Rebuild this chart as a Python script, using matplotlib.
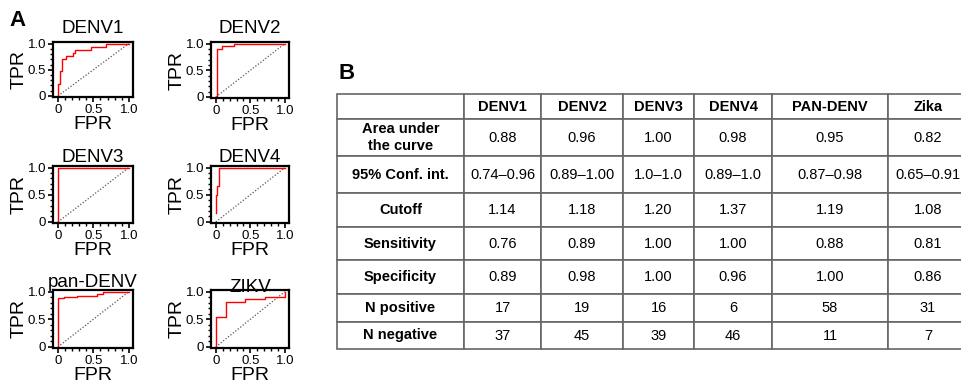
import numpy as np
import matplotlib
matplotlib.use("Agg")
import matplotlib.pyplot as plt
from matplotlib.ticker import MultipleLocator, FixedLocator, FixedFormatter

plt.rcParams['font.family'] = ['Liberation Sans', 'DejaVu Sans']

# ---- panel A : ROC curves (corner points) ----
titles = ["DENV1", "DENV2", "DENV3", "DENV4", "pan-DENV", "ZIKV"]

fpr_denv1 = [0, 0, 0.027, 0.027, 0.054, 0.054, 0.108, 0.108, 0.216, 0.216, 0.243, 0.243, 0.46, 0.46, 0.676, 0.676, 1.0]
tpr_denv1 = [0, 0.235, 0.235, 0.47, 0.47, 0.706, 0.706, 0.765, 0.765, 0.824, 0.824, 0.882, 0.882, 0.941, 0.941, 1.0, 1.0]

fpr_denv2 = [0, 0.022, 0.022, 0.089, 0.089, 0.267, 0.267, 1.0]
tpr_denv2 = [0, 0, 0.895, 0.895, 0.947, 0.947, 1.0, 1.0]

fpr_denv3 = [0, 0, 1.0]
tpr_denv3 = [0, 1.0, 1.0]

fpr_denv4 = [0, 0, 0.022, 0.022, 0.043, 0.043, 1.0]
tpr_denv4 = [0.167, 0.5, 0.5, 0.667, 0.667, 1.0, 1.0]

fpr_pan = [0, 0, 0.091, 0.091, 0.273, 0.273, 0.545, 0.545, 0.636, 0.636, 1.0]
tpr_pan = [0, 0.879, 0.879, 0.897, 0.897, 0.914, 0.914, 0.966, 0.966, 1.0, 1.0]

fpr_zikv = [0, 0, 0.143, 0.143, 0.429, 0.429, 0.714, 0.714, 1.0, 1.0]
tpr_zikv = [0, 0.548, 0.548, 0.806, 0.806, 0.871, 0.871, 0.903, 0.903, 1.0]

curves = [(fpr_denv1, tpr_denv1), (fpr_denv2, tpr_denv2), (fpr_denv3, tpr_denv3),
          (fpr_denv4, tpr_denv4), (fpr_pan, tpr_pan), (fpr_zikv, tpr_zikv)]

# ---- panel B : table ----
col_labels = ["", "DENV1", "DENV2", "DENV3", "DENV4", "PAN-DENV", "Zika"]
row_labels = ["Area under\nthe curve", "95% Conf. int.", "Cutoff", "Sensitivity",
              "Specificity", "N positive", "N negative"]
auc = ["0.88", "0.96", "1.00", "0.98", "0.95", "0.82"]
conf_int = ["0.74\u20130.96", "0.89\u20131.00", "1.0\u20131.0", "0.89\u20131.0", "0.87\u20130.98", "0.65\u20130.91"]
cutoff = ["1.14", "1.18", "1.20", "1.37", "1.19", "1.08"]
sensitivity = ["0.76", "0.89", "1.00", "1.00", "0.88", "0.81"]
specificity = ["0.89", "0.98", "1.00", "0.96", "1.00", "0.86"]
n_positive = ["17", "19", "16", "6", "58", "31"]
n_negative = ["37", "45", "39", "46", "11", "7"]

W, H = 961, 391
fig = plt.figure(figsize=(W / 100, H / 100), dpi=100)

def px_axes(l, t, r, b):
    return fig.add_axes([l / W, 1 - b / H, (r - l) / W, (b - t) / H])

boxes = [(53, 42, 133, 97), (211, 42, 289, 98),
         (53, 166, 133, 223), (211, 166, 289, 223),
         (53, 290, 133, 348), (211, 290, 289, 348)]
pads = [6.5, 6.5, 3, 3, 2.5, -1.5]

for i in range(6):
    ax = px_axes(*boxes[i])
    fx, ty = curves[i]
    ax.plot([0, 1], [0, 1], ls=(0, (1, 1.5)), color='#555555', lw=0.9)
    ax.plot(fx, ty, color='red', lw=1.0)
    ax.set_xlim(-0.07, 1.06)
    ax.set_ylim(-0.02, 1.03)
    for a in (ax.xaxis, ax.yaxis):
        a.set_major_locator(FixedLocator([0, 0.5, 1.0]))
        a.set_major_formatter(FixedFormatter(["0", "0.5", "1.0"]))
        a.set_minor_locator(MultipleLocator(0.1))
    ax.tick_params(which='major', direction='out', length=3.5, width=1.2, labelsize=9.5, pad=1.5)
    ax.tick_params(which='minor', direction='out', length=2.2, width=1.0)
    for s in ax.spines.values():
        s.set_linewidth(1.6)
    # fixed y so the title can sit on the frame (as in ZIKV)
    ax.set_title(titles[i], fontsize=13.5, y=1.0, pad=pads[i])
    ax.set_xlabel("FPR", fontsize=14, labelpad=0)
    ax.set_ylabel("TPR", fontsize=14, labelpad=0)

fig.text(9 / W, 1 - 26 / H, "A", fontsize=16, fontweight='bold')
fig.text(338 / W, 1 - 79 / H, "B", fontsize=16, fontweight='bold')

# table
axt = px_axes(337, 94, 968, 349)
axt.axis('off')
body = [auc, conf_int, cutoff, sensitivity, specificity, n_positive, n_negative]
cells = [col_labels] + [[row_labels[k]] + body[k] for k in range(len(body))]
col_w = [127, 77, 82, 71, 78, 116, 80]
row_h = [25, 37, 37, 34, 33, 34, 28, 27]
tab = axt.table(cellText=cells, cellLoc='center', bbox=[0, 0, 1, 1],
                colWidths=[c / sum(col_w) for c in col_w])
tab.auto_set_font_size(False)
tab.set_fontsize(10.5)
for (r, c), cell in tab.get_celld().items():
    cell.set_height(row_h[r] / sum(row_h))
    cell.set_edgecolor('#666666')
    cell.set_linewidth(1.2)
    if r == 0 or c == 0:
        cell.get_text().set_fontweight('bold')

fig.savefig("out.png", dpi=100)
